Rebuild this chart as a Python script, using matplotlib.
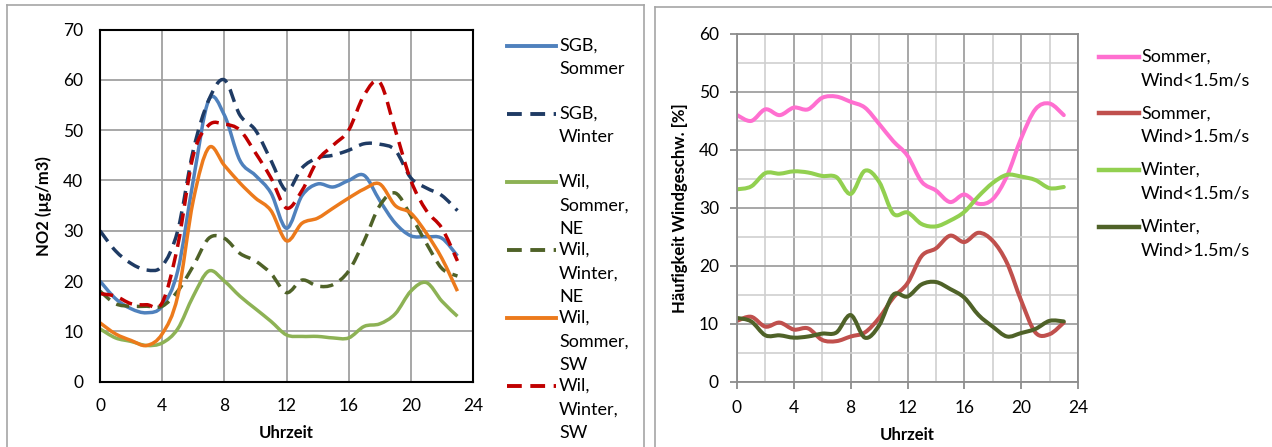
import numpy as np
import matplotlib
matplotlib.use('Agg')
import matplotlib.pyplot as plt
from matplotlib.path import Path
from matplotlib.patches import PathPatch
from matplotlib.lines import Line2D

plt.rcParams['font.family'] = ['Lato', 'DejaVu Sans']

# hours of the day
hours = list(range(24))

# left chart: NO2 daily cycle
sgb_sommer = [20, 16.5, 14.5, 13.7, 15, 22, 40, 56, 53, 44, 41, 37.5,
              30.5, 37, 39.3, 38.7, 40, 41, 36, 31.5, 29, 28.8, 28.5, 25]
sgb_winter = [30, 26, 23.5, 22.2, 23, 30, 46, 56, 60, 53, 50, 44,
              38, 42.5, 44.5, 45, 46, 47.3, 47.2, 46, 40.5, 38.5, 37, 34]
wil_sommer_ne = [10.5, 8.7, 8, 7.2, 7.7, 10.5, 17, 22, 20, 17, 14.5, 12,
                 9.3, 9, 9, 8.7, 8.7, 11, 11.5, 13.5, 18, 19.7, 16, 13]
wil_winter_ne = [18, 15.5, 15, 15, 15, 18, 23, 28.5, 28.5, 25.5, 24, 21.5,
                 17.7, 20.2, 19, 19.3, 22, 28, 35, 37.5, 33, 27.5, 22.5, 21]
wil_sommer_sw = [11.7, 9.5, 8.2, 7.2, 9.5, 17, 36, 46.5, 43, 39.5, 36.5, 34,
                 28, 31.5, 32.5, 34.5, 36.5, 38.3, 39.3, 35, 33.5, 29.5, 24.5, 18]
wil_winter_sw = [17.5, 17, 15.5, 15.3, 15.7, 27, 45, 51, 51.2, 50, 45.5, 40.5,
                 34.5, 38, 44, 47, 50, 57, 59.5, 50, 40, 34, 30.5, 24]

# right chart: frequency of wind speed classes
sommer_lt = [46, 45, 47, 46, 47.3, 47, 49, 49.2, 48.3, 47.3, 44.5, 41.5,
             39, 34.5, 33, 31, 32.3, 30.7, 31.5, 35.5, 42, 47, 48, 46]
sommer_gt = [10.5, 11.2, 9.5, 10.2, 9, 9.2, 7.2, 7, 7.8, 8.5, 11, 14.5,
             17, 21.7, 23, 25.2, 24.1, 25.7, 24.3, 20.5, 14, 8.5, 8.2, 10.2]
winter_lt = [33.2, 33.7, 36, 35.9, 36.3, 36.1, 35.5, 35.3, 32.4, 36.4, 34.5, 29,
             29.2, 27.2, 26.8, 27.8, 29.3, 32, 34.3, 35.7, 35.4, 34.8, 33.4, 33.6]
winter_gt = [11, 10.4, 8, 8, 7.6, 7.8, 8.3, 8.5, 11.5, 7.6, 9.7, 15,
             14.7, 16.8, 17.2, 16, 14.5, 11.5, 9.5, 7.8, 8.4, 9.1, 10.5, 10.4]

left_labels = ['SGB,\nSommer', 'SGB,\nWinter', 'Wil,\nSommer,\nNE',
               'Wil,\nWinter,\nNE', 'Wil,\nSommer,\nSW', 'Wil,\nWinter,\nSW']
right_labels = ['Sommer,\nWind<1.5m/s', 'Sommer,\nWind>1.5m/s',
                'Winter,\nWind<1.5m/s', 'Winter,\nWind>1.5m/s']

left_series = [sgb_sommer, sgb_winter, wil_sommer_ne, wil_winter_ne, wil_sommer_sw, wil_winter_sw]
left_colors = ['#4F81BD', '#1F3B64', '#8DB255', '#4F6228', '#EC7A1C', '#C00000']
left_dashed = [False, True, False, True, False, True]

right_series = [sommer_lt, sommer_gt, winter_lt, winter_gt]
right_colors = ['#FF6FD0', '#C0504D', '#92D050', '#4F6228']

W, H = 1272, 447
LW = 2.5
LW2 = 2.9
DASH = (0, (3.8, 2.2))
FS = 12.5


def smooth_path(x, y):
    # excel-like smoothed line: cubic bezier through every point
    x = np.asarray(x, float)
    y = np.asarray(y, float)
    n = len(x)
    verts = [(x[0], y[0])]
    codes = [Path.MOVETO]
    for i in range(n - 1):
        a = max(i - 1, 0)
        b = min(i + 2, n - 1)
        c1 = (x[i] + (x[i + 1] - x[a]) / 6, y[i] + (y[i + 1] - y[a]) / 6)
        c2 = (x[i + 1] - (x[b] - x[i]) / 6, y[i + 1] - (y[b] - y[i]) / 6)
        verts += [c1, c2, (x[i + 1], y[i + 1])]
        codes += [Path.CURVE4] * 3
    return Path(verts, codes)


def fx(px):
    return px / W


def fy(py):
    return 1 - py / H


fig = plt.figure(figsize=(W / 100, H / 100), dpi=100)

# panel borders
border = '#A6A6A6'
for xs, ys in [([7, 7], [5, 460]), ([7, 644], [5, 5]), ([644, 644], [5, 460]),
               ([655, 655], [7, 460]), ([655, 1280], [7, 7])]:
    fig.add_artist(Line2D([fx(v) for v in xs], [fy(v) for v in ys],
                          transform=fig.transFigure, color=border, lw=1.2))

# ---------------- left chart
ax1 = fig.add_axes([fx(100), fy(381.7), fx(473) - fx(100), fy(29.5) - fy(381.7)])
ax1.set_xlim(0, 24)
ax1.set_ylim(0, 70)
ax1.set_xticks(range(0, 25, 4))
ax1.set_yticks(range(0, 71, 10))
ax1.grid(True, color='#A0A0A0', lw=1.3)
ax1.set_axisbelow(True)
for s in ax1.spines.values():
    s.set_color('black')
    s.set_linewidth(1.5)
ax1.tick_params(length=0, pad=12, labelsize=FS)
ax1.set_xlabel('Uhrzeit', fontsize=12, fontweight='bold', labelpad=8)
ax1.set_ylabel('NO2 (µg/m3)', fontsize=12, fontweight='bold', labelpad=8)

for vals, col, dashed in zip(left_series, left_colors, left_dashed):
    patch = PathPatch(smooth_path(hours, vals), fill=False, edgecolor=col, lw=LW,
                      linestyle=DASH if dashed else '-', capstyle='butt', joinstyle='round')
    ax1.add_patch(patch)

# legend of left chart
for i, (lab, col, dashed) in enumerate(zip(left_labels, left_colors, left_dashed)):
    y0 = 46 + 68 * i
    fig.add_artist(Line2D([fx(507), fx(556)], [fy(y0), fy(y0)], transform=fig.transFigure,
                          color=col, lw=LW + 0.3, linestyle=DASH if dashed else '-'))
    for j, line in enumerate(lab.split('\n')):
        fig.text(fx(559), fy(y0 + 23.5 * j), line, fontsize=13, va='center', ha='left')

# ---------------- right chart
ax2 = fig.add_axes([fx(737), fy(381.7), fx(1078) - fx(737), fy(34) - fy(381.7)])
ax2.set_xlim(0, 24)
ax2.set_ylim(0, 60)
ax2.set_xticks(range(0, 25, 4))
ax2.set_xticks(range(0, 25, 2), minor=True)
ax2.set_yticks(range(0, 61, 10))
ax2.set_yticks(range(0, 61, 5), minor=True)
ax2.grid(True, which='minor', color='#CFCFCF', lw=1.2)
ax2.grid(True, which='major', color='#A0A0A0', lw=1.3)
ax2.set_axisbelow(True)
for s in ax2.spines.values():
    s.set_color('#8C8C8C')
    s.set_linewidth(1.3)
ax2.tick_params(which='major', length=5, width=1.3, color='#8C8C8C', pad=8, labelsize=FS)
ax2.tick_params(which='minor', length=0)
ax2.set_xlabel('Uhrzeit', fontsize=12, fontweight='bold', labelpad=8)
ax2.set_ylabel('Häufigkeit Windgeschw. [%]', fontsize=12, fontweight='bold', labelpad=8)

for vals, col in zip(right_series, right_colors):
    patch = PathPatch(smooth_path(hours, vals), fill=False, edgecolor=col, lw=LW2,
                      capstyle='round', joinstyle='round')
    ax2.add_patch(patch)

# legend of right chart
for i, (lab, col) in enumerate(zip(right_labels, right_colors)):
    y0 = 56.7 + 56.7 * i
    fig.add_artist(Line2D([fx(1099), fx(1139)], [fy(y0), fy(y0)], transform=fig.transFigure,
                          color=col, lw=LW2 + 0.3))
    for j, line in enumerate(lab.split('\n')):
        fig.text(fx(1141), fy(y0 + 23.3 * j), line, fontsize=13, va='center', ha='left')

fig.savefig('out.png', dpi=100)
